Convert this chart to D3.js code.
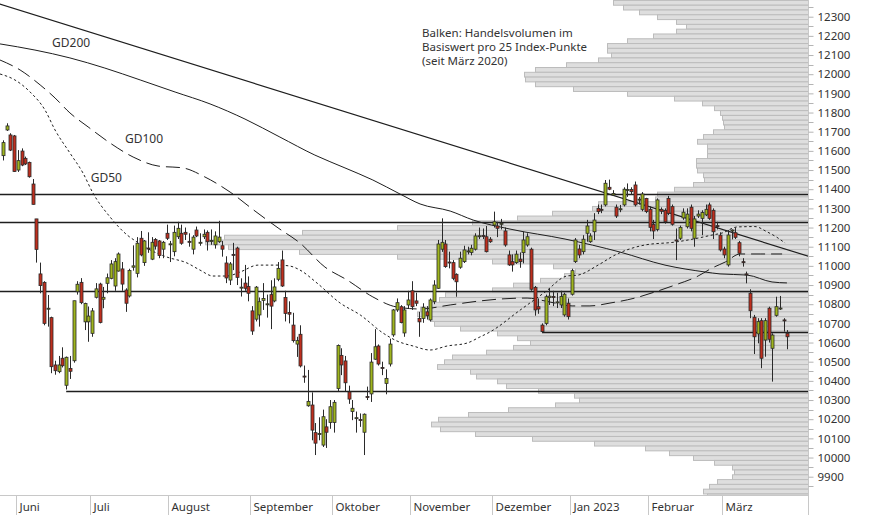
<!DOCTYPE html>
<html>
<head>
<meta charset="utf-8">
<script src="https://cdn.jsdelivr.net/npm/d3@7"></script>
<style>
  html, body { margin: 0; padding: 0; background: #fff; }
  svg { display: block; font-family: "Noto Sans", "Open Sans", sans-serif; }
</style>
</head>
<body>
<svg id="chart" width="874" height="515"></svg>
<script>
// Month labels on the time axis and the trading-day index where each month starts
const monthLabels = ["Juni", "Juli", "August", "September", "Oktober", "November", "Dezember", "Jan 2023", "Februar", "März"];
const monthStart  = [4, 24, 45, 67, 89, 110, 132, 153, 174, 194];

// Daily candles, one per trading day (late May 2022 to March 2023): [open, high, low, close]
const candles = [
  [11575,11655,11550,11643],[11709,11744,11704,11730],[11683,11692,11599,11604],[11678,11683,11490,11492],
  [11500,11604,11490,11549],[11599,11613,11520,11526],[11561,11570,11526,11532],[11540,11544,11460,11465],
  [11427,11453,11320,11321],[11245,11245,11017,11086],[10958,11017,10857,10897],[10914,10920,10690,10700],
  [10775,10848,10683,10779],[10730,10735,10440,10474],[10483,10505,10432,10453],[10448,10530,10440,10483],
  [10518,10575,10470,10479],[10377,10527,10355,10523],[10465,10530,10410,10450],[10505,10818,10495,10818],
  [10865,10920,10850,10904],[10914,10936,10800,10808],[10708,10808,10665,10804],[10708,10788,10604,10738],
  [10648,10780,10630,10765],[10836,10910,10830,10880],[10905,10912,10700,10705],[10826,10890,10779,10836],
  [10909,10960,10857,10938],[10935,11030,10930,11010],[10895,11040,10870,11022],[10973,11070,10970,11062],
  [10984,11020,10870,10905],[10874,10883,10760,10805],[10843,10985,10835,10976],[10993,11107,10975,11000],
  [10961,11150,10940,11118],[11144,11182,11050,11057],[11017,11135,11000,11130],[11093,11175,11068,11090],
  [11035,11150,11030,11123],[11138,11145,11085,11103],[11130,11135,11040,11054],[11087,11130,11040,11123],
  [11170,11215,11135,11144],[11112,11130,11020,11115],[11074,11210,11050,11175],[11152,11230,11140,11196],
  [11170,11215,11110,11118],[11175,11200,11135,11165],[11128,11170,11100,11125],[11087,11160,11060,11150],
  [11187,11205,11150,11156],[11120,11170,11105,11123],[11152,11190,11140,11165],[11175,11185,11080,11126],
  [11128,11190,11110,11132],[11110,11180,11090,11156],[11126,11235,11120,11150],[11105,11130,11048,11087],
  [11015,11050,10910,10937],[10926,11020,10900,11010],[11060,11120,10978,11055],[11093,11100,10900,10940],
  [10886,10935,10840,10889],[10910,11005,10870,10883],[10893,10945,10815,10857],[10765,10790,10640,10660],
  [10722,10895,10710,10889],[10744,10835,10683,10813],[10820,10910,10770,10830],[10800,10850,10730,10802],
  [10850,10925,10670,10790],[10817,10935,10810,10890],[10930,11020,10920,10987],[11031,11080,10890,10895],
  [10835,10870,10710,10752],[10757,10815,10700,10748],[10691,10755,10600,10610],[10592,10630,10525,10610],
  [10643,10690,10470,10478],[10425,10480,10390,10420],[10270,10457,10265,10293],[10274,10340,10090,10143],
  [10130,10180,10013,10075],[10120,10210,10090,10125],[10065,10250,10055,10213],[10160,10200,10050,10132],
  [10183,10300,10150,10265],[10183,10300,10130,10288],[10360,10590,10345,10585],[10533,10570,10430,10483],
  [10504,10530,10345,10390],[10342,10375,10280,10305],[10240,10300,10195,10257],[10205,10240,10130,10208],
  [10198,10230,10160,10196],[10132,10230,10013,10226],[10318,10370,10300,10315],[10332,10545,10290,10498],
  [10513,10670,10510,10578],[10582,10590,10480,10488],[10470,10500,10430,10465],[10387,10460,10330,10413],
  [10488,10620,10475,10592],[10640,10775,10630,10770],[10770,10830,10760,10808],[10787,10795,10700,10704],
  [10650,10790,10630,10770],[10796,10870,10780,10822],[10870,10920,10770,10787],[10817,10860,10790,10805],
  [10726,10760,10630,10708],[10726,10805,10703,10784],[10760,10790,10720,10740],[10718,10830,10710,10822],
  [10813,10925,10800,10900],[10883,11135,10880,11114],[11087,11248,11073,11123],[11114,11135,10990,10996],
  [11020,11074,10987,11017],[11017,11030,10925,10935],[10956,10961,10839,10917],[10993,11074,10985,11040],
  [11022,11105,11015,11083],[11075,11100,11060,11078],[11070,11110,11055,11092],[11087,11170,11080,11156],
  [11155,11200,11140,11157],[11158,11195,11140,11155],[11152,11208,11070,11074],[11139,11150,11120,11126],
  [11213,11283,11200,11230],[11208,11230,11150,11196],[11220,11245,11190,11222],[11182,11200,11100,11109],
  [11057,11080,11000,11005],[11022,11060,10970,11005],[11017,11080,11010,11061],[11035,11070,10990,11022],
  [11069,11180,11013,11135],[11109,11170,11100,11152],[11087,11095,10870,10878],[10888,10895,10740,10770],
  [10787,10830,10750,10775],[10691,10700,10650,10657],[10700,10850,10690,10839],[10835,10883,10796,10842],
  [10840,10870,10790,10835],[10810,10860,10780,10812],[10796,10870,10780,10840],[10744,10860,10735,10852],
  [10805,10830,10720,10735],[10852,10985,10845,10975],[11022,11145,11015,11135],[11088,11110,11040,11057],
  [11074,11160,11060,11139],[11170,11240,11126,11208],[11126,11170,11120,11156],[11178,11275,11135,11239],
  [11300,11320,11270,11283],[11295,11320,11275,11292],[11318,11448,11310,11431],[11410,11450,11395,11400],
  [11370,11395,11365,11378],[11306,11320,11250,11260],[11295,11318,11280,11298],[11318,11410,11310,11400],
  [11395,11430,11360,11398],[11398,11410,11370,11387],[11422,11440,11310,11318],[11345,11360,11320,11348],
  [11295,11385,11285,11375],[11352,11355,11275,11283],[11295,11310,11180,11201],[11217,11240,11140,11182],
  [11190,11352,11180,11344],[11295,11305,11270,11285],[11290,11300,11220,11230],[11352,11365,11265,11274],
  [11309,11320,11210,11217],[11135,11195,11030,11133],[11144,11210,11135,11201],[11250,11300,11240,11280],
  [11204,11300,11195,11270],[11306,11320,11180,11196],[11144,11260,11100,11245],[11260,11290,11250,11270],
  [11248,11290,11160,11278],[11266,11320,11260,11295],[11318,11330,11240,11248],[11290,11300,11140,11178],
  [11210,11230,11190,11208],[11160,11175,11075,11083],[11088,11100,11040,11057],[11005,11187,10996,11161],
  [11185,11190,11138,11187],[11173,11200,11140,11149],[11121,11130,11050,11066],[11022,11040,10996,11020],
  [10958,10970,10909,10955],[10857,10878,10727,10766],[10732,10744,10540,10630],[10645,10727,10596,10709],
  [10714,10727,10466,10518],[10613,10727,10526,10714],[10779,10787,10600,10617],[10570,10648,10396,10639],
  [10742,10839,10735,10787],[10778,10843,10770,10780],[10718,10727,10657,10716],[10648,10665,10565,10630]
];

// Price levels (25-point steps) and traded volume in the underlying since March 2020 (relative units)
const volumeLevels = [
  12375,12350,12325,12300,12275,12250,12225,12200,12175,12150,12125,12100,12075,12050,12025,12000,
  11975,11950,11925,11900,11875,11850,11825,11800,11775,11750,11725,11700,11675,11650,11625,11600,
  11575,11550,11525,11500,11475,11450,11425,11400,11375,11350,11325,11300,11275,11250,11225,11200,
  11175,11150,11125,11100,11075,11050,11025,11000,10975,10950,10925,10900,10875,10850,10825,10800,
  10775,10750,10725,10700,10675,10650,10625,10600,10575,10550,10525,10500,10475,10450,10425,10400,
  10375,10350,10325,10300,10275,10250,10225,10200,10175,10150,10125,10100,10075,10050,10025,10000,
  9975,9950,9925,9900,9875,9850,9825,9800
];
const volumeValues = [
  195,185,169,151,132,122,132,155,181,201,201,197,210,242,273,284,
  283,273,235,181,134,106,94,88,86,85,84,95,105,111,101,101,
  101,112,112,111,105,104,115,134,151,153,210,216,256,291,336,411,
  506,584,603,580,509,411,316,255,233,244,268,295,316,363,369,378,
  388,391,378,374,348,311,291,278,295,322,356,364,371,338,332,311,
  302,270,234,229,253,300,340,370,377,368,333,276,214,163,139,115,
  94,76,74,76,91,99,105,101
];

// Moving averages sampled along the trading-day index: [dayIndex, value]
const gd50 = [
  [-0.8,12001],[3.2,11970],[7.3,11907],[11.3,11813],[14.0,11709],[18.0,11589],[21.5,11485],[24.2,11380],
  [28.8,11255],[33.4,11161],[36.1,11124],[39.6,11083],[44.1,11046],[49.5,11015],[53.0,10978],[56.5,10947],
  [60.3,10947],[63.8,10968],[68.6,11004],[74.0,11004],[77.2,10999],[79.9,10978],[84.5,10910],[90.7,10806],
  [96.1,10744],[102.2,10650],[106.0,10608],[110.3,10582],[114.9,10561],[119.5,10582],[124.8,10597],
  [128.3,10629],[131.0,10655],[139.1,10769],[145.8,10863],[151.7,10947],[154.7,10952],[160.1,11004],
  [164.7,11057],[172.7,11109],[180.8,11124],[187.0,11145],[190.8,11161],[193.4,11171],[197.5,11203],
  [202.3,11205],[205.5,11178],[208.2,11149],[210.4,11119]
];
const gd100 = [
  [-0.8,12074],[4.6,12022],[10.0,11944],[14.0,11876],[18.0,11798],[22.9,11725],[28.8,11641],[35.0,11568],
  [41.7,11521],[48.4,11511],[54.3,11464],[61.1,11385],[67.8,11286],[74.0,11198],[79.9,11119],[86.6,10994],
  [92.6,10926],[99.5,10838],[106.0,10785],[112.2,10775],[120.3,10796],[128.3,10817],[133.7,10827],
  [141.0,10832],[147.2,10811],[153.1,10791],[157.9,10791],[163.3,10806],[170.0,10832],[175.4,10864],
  [180.8,10900],[187.0,10947],[190.8,10989],[194.3,11020],[198.3,11062],[203.7,11062],[209.6,11062]
];
const gd200 = [
  [-0.8,12158],[8.6,12126],[18.0,12085],[27.4,12032],[36.9,11970],[46.3,11907],[55.7,11845],[65.1,11766],
  [74.5,11672],[83.9,11578],[92.0,11511],[99.5,11448],[106.8,11375],[112.2,11323],[120.3,11286],
  [126.5,11239],[136.4,11192],[151.2,11140],[166.0,11072],[178.1,11004],[188.9,10968],[192.9,10958],
  [200.2,10952],[206.9,10916],[210.9,10911]
];

// Long-term downtrend line through two points: [dayIndex, value]
const trendLine = [[-1, 12367], [217, 11048]];

// Horizontal support / resistance levels; startIndex null = across the whole chart
const levelValues = [11374, 11227, 10869, 10655, 10347];
const levelStart  = [null, null, null, 145, 17];

// Right-axis ticks
const yTickValues  = [9900,10000,10100,10200,10300,10400,10500,10600,10700,10800,10900,11000,11100,
                      11200,11300,11400,11500,11600,11700,11800,11900,12000,12100,12200,12300];
const yMinorTicks  = [9850,9950,10050,10150,10250,10350,10450,10550,10650,10750,10850,10950,11050,11150,
                      11250,11350,11450,11550,11650,11750,11850,11950,12050,12150,12250,12350];

// Moving-average captions: [text, dayIndex, value]
const maCaptions = [["GD200", 13.2, 12140], ["GD100", 32.8, 11640], ["GD50", 23.6, 11440]];
const noteLines = ["Balken: Handelsvolumen im", "Basiswert pro 25 Index-Punkte", "(seit März 2020)"];

// ---------------------------------------------------------------------------
const W = 874, H = 515;
const plotRight = 808, plotBottom = 495;
const svg = d3.select("#chart");

const x = d3.scaleLinear().domain([0, candles.length - 1]).range([3.0, 787.3]);
const y = d3.scaleLinear().domain([9900, 12300]).range([476.7, 16.7]);
const xv = d3.scaleLinear().domain([0, 603]).range([plotRight, 205]);
const step = x(1) - x(0);

svg.append("defs").append("clipPath").attr("id", "plot")
  .append("rect").attr("x", 0).attr("y", 0).attr("width", plotRight).attr("height", plotBottom);

const plot = svg.append("g").attr("clip-path", "url(#plot)");

// Volume-at-price bars, anchored on the right axis
plot.append("g").selectAll("rect")
  .data(volumeLevels.map((lv, i) => ({ lv, v: volumeValues[i] })))
  .join("rect")
  .attr("x", d => xv(d.v) + 0.5)
  .attr("y", d => y(d.lv + 12.5) + 0.5)
  .attr("width", d => plotRight - xv(d.v))
  .attr("height", d => y(d.lv - 12.5) - y(d.lv + 12.5))
  .attr("fill", "#dedede")
  .attr("stroke", "#bcbcbc")
  .attr("stroke-width", 1);

// Support / resistance levels
plot.append("g").selectAll("line")
  .data(levelValues.map((v, i) => ({ v, s: levelStart[i] })))
  .join("line")
  .attr("x1", d => d.s === null ? 0 : x(d.s))
  .attr("x2", plotRight)
  .attr("y1", d => Math.round(y(d.v)) + 0.5)
  .attr("y2", d => Math.round(y(d.v)) + 0.5)
  .attr("stroke", "#1e1e1e")
  .attr("stroke-width", 1.4);

// Trend line
const lineGen = d3.line().x(d => x(d[0])).y(d => y(d[1]));
plot.append("path").datum(trendLine)
  .attr("d", lineGen).attr("fill", "none")
  .attr("stroke", "#1e1e1e").attr("stroke-width", 1.1);

// Moving averages
const maGen = d3.line().x(d => x(d[0])).y(d => y(d[1])).curve(d3.curveMonotoneX);
[[gd200, null], [gd100, "14,6"], [gd50, "2.5,2.5"]].forEach(([pts, dash]) => {
  const p = plot.append("path").datum(pts)
    .attr("d", maGen).attr("fill", "none")
    .attr("stroke", "#1e1e1e").attr("stroke-width", 1);
  if (dash) p.attr("stroke-dasharray", dash);
});

// Candlesticks
const cg = plot.append("g");
candles.forEach((c, i) => {
  const [o, h, l, cl] = c;
  const cx = Math.round(x(i)) + 0.5;
  cg.append("line")
    .attr("x1", cx).attr("x2", cx)
    .attr("y1", y(h)).attr("y2", y(l))
    .attr("stroke", "#2a2a2a").attr("stroke-width", 1);
  const top = y(Math.max(o, cl)), bot = y(Math.min(o, cl));
  const hgt = Math.max(bot - top, 1);
  const up = cl >= o;
  cg.append("rect")
    .attr("x", cx - 1.5).attr("y", top)
    .attr("width", 3).attr("height", hgt)
    .attr("fill", up ? "#9fb51e" : "#bf2f1e")
    .attr("stroke", "#2a2a2a").attr("stroke-width", 0.8);
});

// Axes frame
svg.append("line").attr("x1", plotRight + 0.5).attr("x2", plotRight + 0.5)
  .attr("y1", 0).attr("y2", H).attr("stroke", "#c8c8c8");
svg.append("line").attr("x1", 0).attr("x2", plotRight)
  .attr("y1", plotBottom + 0.5).attr("y2", plotBottom + 0.5).attr("stroke", "#c8c8c8");

// Right value axis
const yAxis = d3.axisRight(y).tickValues(yTickValues).tickSize(5).tickPadding(4)
  .tickFormat(d3.format("d"));
const ya = svg.append("g").attr("transform", `translate(${plotRight + 0.5},0)`).call(yAxis);
ya.select(".domain").remove();
ya.selectAll(".tick line").attr("stroke", "#b4b4b4");
ya.selectAll(".tick text").attr("fill", "#333").attr("font-size", 11.5)
  .attr("font-family", "'Noto Sans', sans-serif");
svg.append("g").selectAll("line").data(yMinorTicks).join("line")
  .attr("x1", plotRight + 0.5).attr("x2", plotRight + 5.5)
  .attr("y1", d => Math.round(y(d)) + 0.5).attr("y2", d => Math.round(y(d)) + 0.5)
  .attr("stroke", "#b4b4b4");

// Month separators and labels
const mg = svg.append("g");
monthStart.forEach((s, i) => {
  const sx = Math.round(x(s - 0.5)) + 0.5;
  mg.append("line").attr("x1", sx).attr("x2", sx)
    .attr("y1", plotBottom).attr("y2", H).attr("stroke", "#c8c8c8");
  mg.append("text").attr("x", sx + 3).attr("y", 511)
    .attr("font-size", 11.5).attr("fill", "#333").text(monthLabels[i]);
});

// Moving-average captions
svg.append("g").selectAll("text").data(maCaptions).join("text")
  .attr("x", d => x(d[1])).attr("y", d => y(d[2]))
  .attr("font-size", 12).attr("fill", "#333").text(d => d[0]);

// Note on the volume bars
svg.append("g").selectAll("text").data(noteLines).join("text")
  .attr("x", 422).attr("y", (d, i) => 37 + i * 14)
  .attr("font-size", 11.5).attr("fill", "#333").text(d => d);
</script>
</body>
</html>
